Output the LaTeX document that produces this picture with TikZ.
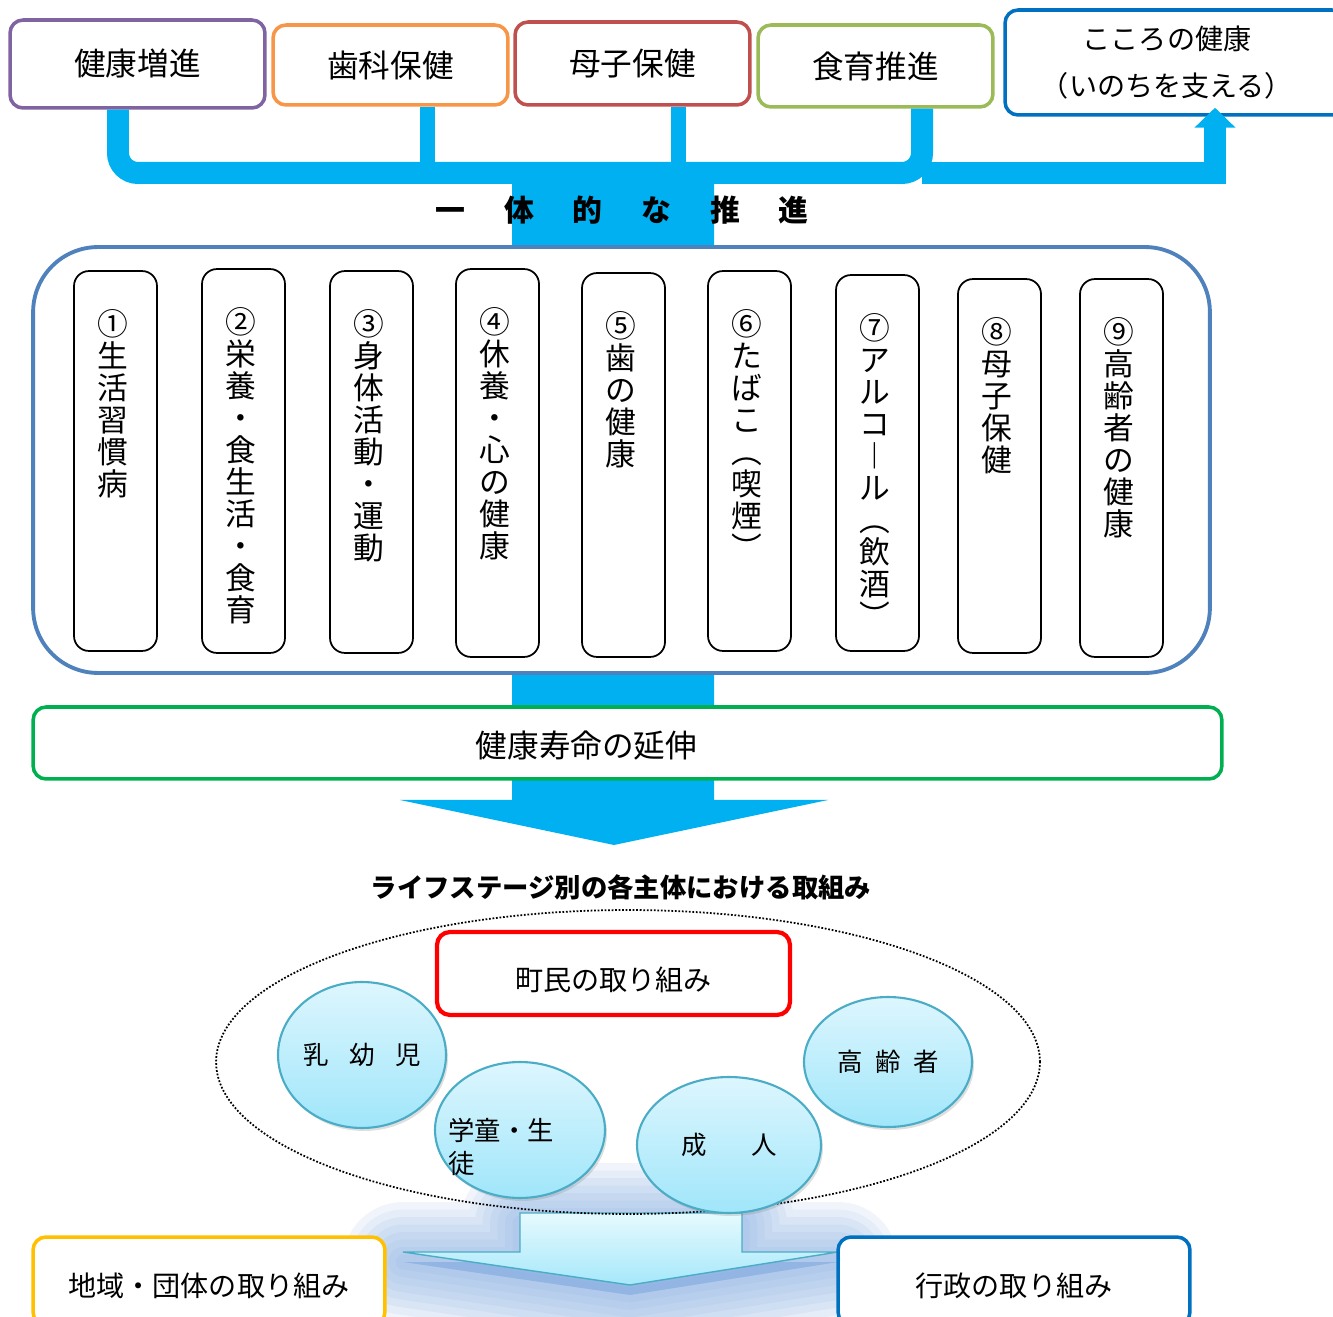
\documentclass[tikz,border=0pt]{standalone}
\usepackage{fontspec}
\setmainfont{Noto Sans CJK JP}
\usepackage{xcolor}
\usepackage{tikz}
\usetikzlibrary{positioning, calc, shapes.geometric, arrows.meta, shadows}

\definecolor{flowc}{HTML}{00B0F0}
\definecolor{purpleb}{HTML}{8064A2}
\definecolor{orangeb}{HTML}{F79646}
\definecolor{redb}{HTML}{C0504D}
\definecolor{greenb}{HTML}{9BBB59}
\definecolor{blueb}{HTML}{0070C0}
\definecolor{areab}{HTML}{4F81BD}
\definecolor{lifeb}{HTML}{00B050}
\definecolor{townb}{HTML}{FF0000}
\definecolor{yellowb}{HTML}{FFC000}
\definecolor{ballb}{HTML}{4BACC6}
\definecolor{balltop}{HTML}{DDF6FE}
\definecolor{ballbot}{HTML}{A0E6FA}
\definecolor{arrtop}{HTML}{E6FAFE}
\definecolor{arrbot}{HTML}{A6E8FA}
\definecolor{glowc}{HTML}{7FA8DE}

\begin{document}
\begin{tikzpicture}[x=0.02cm, y=-0.02cm,
  box/.style={draw, line width=2pt, fill=white, rounded corners=0.26cm, font=\fontsize{18}{20}\selectfont},
  item/.style={draw=black, line width=1pt, fill=white, rounded corners=0.3cm, minimum width=1.66cm},
  tate/.style={align=center, inner sep=0pt, xshift=-0.06cm, font=\fontsize{17.5}{18.2}\selectfont},
  bar/.style={draw=flowc, line width=0.44cm},
  ball/.style={ellipse, draw=ballb, line width=1.2pt, top color=balltop, bottom color=ballbot, inner sep=0pt,
    font=\fontsize{14.5}{19}\selectfont, drop shadow={opacity=0.25, shadow xshift=0.04cm, shadow yshift=-0.06cm}}]
  \useasboundingbox (0,0) rectangle (1333,1317);
  % Flow column and arrow head
  \fill[flowc] (512,165) -- (714,165) -- (714,800) -- (828,800) -- (614,845) -- (400,800) -- (512,800) -- cycle;
  % Top boxes
  \node[box, draw=purpleb, minimum width=5.1cm, minimum height=1.76cm] (zoushin) at (137.5,64) {健康増進};
  \node[box, draw=orangeb, minimum width=4.7cm, minimum height=1.6cm] (shika) at (390.5,65) {歯科保健};
  \node[box, draw=redb, minimum width=4.7cm, minimum height=1.66cm] (boshi) at (632.5,63.5) {母子保健};
  \node[box, draw=greenb, minimum width=4.7cm, minimum height=1.64cm] (shokuiku) at (875.5,66) {食育推進};
  \node[box, draw=blueb, minimum width=6.8cm, minimum height=2.1cm,
    label={[name=kokorot, align=center, font=\fontsize{16}{27}\selectfont, xshift=-0.16cm]center:こころの健康\\（いのちを支える）}] (kokoro) at (1175,62.5) {};
  % Joints on the bar
  \coordinate (j1) at (118,173);
  \coordinate (j2) at (427,173);
  \coordinate (j3) at (678,173);
  \coordinate (j4) at (922,173);
  \coordinate (j5) at (1215,173);
  \draw[bar, rounded corners=0.4cm] (j1 |- zoushin.south) -- (j1) -- (j4) -- (j4 |- shokuiku.south);
  \draw[bar, line width=0.3cm] (j2 |- shika.south) -- (j2);
  \draw[bar, line width=0.3cm] (j3 |- boshi.south) -- (j3);
  \draw[bar, -{Triangle[width=0.8cm, length=0.4cm]}] (j4) -- (j5) -- ($(j5 |- kokoro.south)+(0,-9)$);
  \node[font=\bfseries\fontsize{17}{20}\selectfont] (ittai) at (622,210)
    {一\hspace{1.3em}体\hspace{1.3em}的\hspace{1.3em}な\hspace{1.3em}推\hspace{1.3em}進};
  % Nine fields
  \node[draw=areab, line width=2.2pt, fill=white, rounded corners=1.3cm, minimum width=23.54cm, minimum height=8.52cm] (area) at (621.5,460) {};
  \node[item, minimum height=7.6cm] (k1) at (115.5,461) {};
  \node[item, minimum height=7.68cm] (k2) at (243.5,461) {};
  \node[item, minimum height=7.64cm] (k3) at (371.5,462) {};
  \node[item, minimum height=7.76cm] (k4) at (497.5,463) {};
  \node[item, minimum height=7.68cm] (k5) at (623.5,465) {};
  \node[item, minimum height=7.6cm] (k6) at (749.5,461) {};
  \node[item, minimum height=7.52cm] (k7) at (877.5,463) {};
  \node[item, minimum height=7.48cm] (k8) at (999.5,466) {};
  \node[item, minimum height=7.56cm] (k9) at (1121.5,468) {};
  \node[tate, below=0.78cm of k1.north] (v1) {①\\生\\活\\習\\慣\\病};
  \node[tate, below=0.78cm of k2.north] (v2) {②\\栄\\養\\・\\食\\生\\活\\・\\食\\育};
  \node[tate, below=0.78cm of k3.north] (v3) {③\\身\\体\\活\\動\\・\\運\\動};
  \node[tate, below=0.78cm of k4.north] (v4) {④\\休\\養\\・\\心\\の\\健\\康};
  \node[tate, below=0.78cm of k5.north] (v5) {⑤\\歯\\の\\健\\康};
  \node[tate, below=0.78cm of k6.north] (v6) {⑥\\た\\ば\\こ\\︵\\喫\\煙\\︶};
  \node[tate, below=0.78cm of k7.north] (v7) {⑦\\ア\\ル\\コ\\︱\\ル\\︵\\飲\\酒\\︶};
  \node[tate, below=0.78cm of k8.north] (v8) {⑧\\母\\子\\保\\健};
  \node[tate, below=0.78cm of k9.north] (v9) {⑨\\高\\齢\\者\\の\\健\\康};
  % Healthy life expectancy
  \node[box, draw=lifeb, minimum width=23.78cm, minimum height=1.44cm,
    label={[name=enmeit, font=\fontsize{18}{20}\selectfont, xshift=-0.82cm, yshift=-0.06cm]center:健康寿命の延伸}] (enmei) at (627.5,743) {};
  \node[font=\bfseries\fontsize{15}{18}\selectfont] (stage) at (621,887) {ライフステージ別の各主体における取組み};
  % Glow behind the lower arrow
  \foreach \w in {2.4,2.1,1.8,1.5,1.2,0.9,0.6,0.3}
    \filldraw[glowc, line width=\w cm, opacity=0.11, line join=round, yshift=-0.2cm]
      (520,1213) -- (742,1213) -- (742,1252) -- (838,1252) -- (630,1285) -- (403,1252) -- (520,1252) -- cycle;
  \draw[draw=ballb, line width=0.8pt, top color=arrtop, bottom color=arrbot]
    (520,1213) -- (742,1213) -- (742,1252) -- (838,1252) -- (630,1285) -- (403,1252) -- (520,1252) -- cycle;
  % Life stages
  \node[ellipse, draw, densely dotted, line width=1pt, minimum width=16.48cm, minimum height=6.08cm] (stages) at (628,1062) {};
  \node[ball, minimum width=3.36cm, minimum height=2.92cm] (c1) at (362,1055) {乳\hspace{0.8em}幼\hspace{0.8em}児};
  \node[ball, minimum width=3.4cm, minimum height=2.72cm] (c2) at (520,1130) {};
  \node[anchor=west, align=left, inner sep=0pt, font=\fontsize{15}{19}\selectfont] (c2t) at (448,1147) {学童・生\\徒};
  \node[ball, minimum width=3.68cm, minimum height=2.72cm] (c3) at (729,1145) {成\hspace{1.75em}人};
  \node[ball, minimum width=3.36cm, minimum height=2.6cm] (c4) at (888,1062) {高\hspace{0.5em}齢\hspace{0.5em}者};
  \node[box, draw=townb, line width=2.4pt, minimum width=7.06cm, minimum height=1.66cm,
    label={[name=townt, font=\fontsize{16}{20}\selectfont, yshift=-0.12cm]center:町民の取り組み}] (town) at (613.5,973.5) {};
  % Bottom boxes
  \node[box, draw=yellowb, minimum width=7.04cm, minimum height=1.76cm,
    label={[name=chiikit, font=\fontsize{16}{20}\selectfont, yshift=-0.1cm]center:地域・団体の取り組み}] (chiiki) at (209,1281) {};
  \node[box, draw=blueb, minimum width=7.04cm, minimum height=1.76cm,
    label={[name=gyoseit, font=\fontsize{16}{20}\selectfont, yshift=-0.1cm]center:行政の取り組み}] (gyosei) at (1014,1281) {};
\end{tikzpicture}
\end{document}
